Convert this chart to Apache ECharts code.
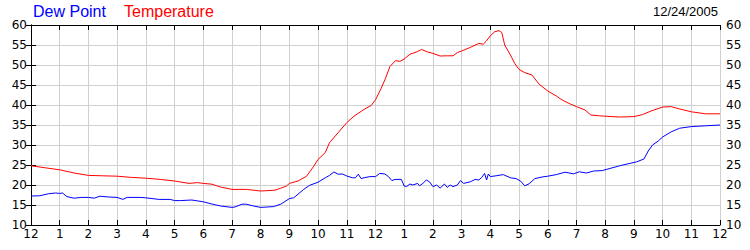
<!DOCTYPE html>
<html>
<head>
<meta charset="utf-8">
<script src="https://cdn.jsdelivr.net/npm/echarts@6/dist/echarts.min.js"></script>
<style>html,body{margin:0;padding:0;background:#fff}#c{width:750px;height:250px}</style>
</head>
<body>
<div id="c"></div>
<script>
// Hours since midnight (0..24) and readings
const tempHours = [0,0.5,1,1.5,2,2.5,3,3.5,4,4.5,5,5.5,5.8,6,6.3,6.6,7,7.5,8,8.5,8.7,8.9,9,9.3,9.6,9.85,10,10.25,10.4,10.7,11,11.25,11.6,11.85,12,12.2,12.35,12.5,12.7,12.85,13,13.2,13.45,13.6,13.8,14,14.25,14.5,14.7,14.85,15,15.3,15.6,15.75,15.85,16,16.15,16.3,16.4,16.5,16.7,16.85,17,17.2,17.45,17.7,18,18.3,18.5,18.8,19,19.3,19.5,19.8,20,20.5,21,21.3,21.6,22,22.3,22.6,23,23.5,24];
const tempValues = [24.8,24.3,23.8,23.0,22.4,22.3,22.2,21.9,21.7,21.4,21.0,20.4,20.6,20.4,20.2,19.5,18.9,18.9,18.5,18.7,19.2,19.75,20.4,21.0,22.2,24.7,26.4,28.1,30.6,33.1,35.6,37.2,38.9,39.9,41.3,44.2,46.7,49.6,51.1,50.9,51.5,52.7,53.3,53.9,53.3,52.9,52.25,52.3,52.3,53.1,53.5,54.4,55.4,55.2,55.9,57.3,58.3,58.6,58.1,55.0,52.5,50.4,48.9,48.1,47.5,45.2,43.5,42.25,41.25,40.2,39.6,38.75,37.5,37.3,37.2,37.0,37.1,37.6,38.5,39.5,39.6,39.0,38.3,37.8,37.8];
const dewHours = [0,0.3,0.6,0.85,1,1.1,1.25,1.5,1.75,2,2.2,2.4,2.7,3,3.2,3.35,3.8,4,4.45,4.85,5,5.2,5.6,6,6.3,6.6,7,7.1,7.35,7.5,7.75,8,8.45,8.7,9,9.15,9.5,9.7,10,10.25,10.4,10.55,10.7,10.85,11,11.2,11.3,11.4,11.5,11.6,11.8,12,12.15,12.33,12.45,12.57,12.68,12.9,13,13.08,13.2,13.3,13.47,13.53,13.65,13.77,13.88,14,14.13,14.25,14.4,14.5,14.6,14.7,14.85,14.96,15.07,15.3,15.47,15.6,15.7,15.8,15.87,15.93,16,16.2,16.45,16.7,16.9,17.05,17.2,17.35,17.55,17.8,18,18.3,18.6,18.9,19.1,19.35,19.6,19.9,20.2,20.5,20.8,21.1,21.35,21.5,21.65,21.85,22,22.3,22.6,23,23.5,24];
const dewValues = [17.25,17.3,17.8,18.0,17.9,18.0,17.1,16.7,16.9,16.9,16.7,17.2,17.0,16.9,16.4,16.9,16.9,16.8,16.4,16.4,16.1,16.1,16.25,15.8,15.25,14.75,14.4,14.5,15.2,15.2,14.75,14.4,14.6,15.2,16.6,16.8,18.9,19.9,20.7,21.8,22.4,23.25,22.7,22.75,22.25,21.8,21.8,22.7,21.6,21.8,22.1,22.1,22.9,22.75,22.1,21.1,21.4,21.4,19.75,19.6,20.25,20.0,20.4,19.8,20.4,21.25,20.8,19.6,20.0,19.2,20.25,19.4,20.0,19.6,20.0,21.1,20.4,20.8,21.4,21.25,21.9,22.9,21.25,22.75,22.1,22.3,22.6,21.8,21.6,21.0,19.8,20.3,21.6,22.0,22.2,22.6,23.2,22.8,23.3,23.0,23.5,23.6,24.2,24.8,25.3,25.8,26.5,28.5,30.0,31.0,32.0,33.3,34.2,34.6,34.8,35.0];
const hourLabels = ['12','1','2','3','4','5','6','7','8','9','10','11','12','1','2','3','4','5','6','7','8','9','10','11','12'];
const yMin = 10, yMax = 60, yStep = 5;
const seriesNames = ['Dew Point', 'Temperature'];
const dateText = '12/24/2005';

const FONT = 'Liberation Sans';
const TICKFONT = 'DejaVu Sans';
const chart = echarts.init(document.getElementById('c'), null, {renderer: 'svg'});
const pair = (hs, vs) => hs.map((h, i) => [h, vs[i]]);
const tickStyle = {show: true, inside: true, length: 5, lineStyle: {color: '#000', width: 1}};
const lineStyle = {color: '#000', width: 1};
chart.setOption({
  animation: false,
  backgroundColor: '#fff',
  grid: {left: 31, right: 30, top: 25, bottom: 25, containLabel: false},
  xAxis: [
    {type: 'value', position: 'bottom', min: 0, max: 24, interval: 1,
     axisLine: {show: true, lineStyle}, axisTick: tickStyle,
     axisLabel: {show: true, margin: 3, color: '#000', fontFamily: TICKFONT, fontSize: 12,
                 showMinLabel: true, showMaxLabel: true,
                 formatter: v => hourLabels[Math.round(v)]},
     splitLine: {show: true, lineStyle: {color: '#d0d0d0', width: 1}}},
    {type: 'value', position: 'top', min: 0, max: 24, interval: 1,
     axisLine: {show: true, lineStyle}, axisTick: tickStyle,
     axisLabel: {show: false}, splitLine: {show: false}}
  ],
  yAxis: [
    {type: 'value', position: 'left', min: yMin, max: yMax, interval: yStep,
     axisLine: {show: true, lineStyle}, axisTick: tickStyle,
     axisLabel: {margin: 4, color: '#000', fontFamily: TICKFONT, fontSize: 12},
     splitLine: {show: true, lineStyle: {color: '#d0d0d0', width: 1}}},
    {type: 'value', position: 'right', min: yMin, max: yMax, interval: yStep,
     axisLine: {show: true, lineStyle}, axisTick: tickStyle,
     axisLabel: {margin: 6, color: '#000', fontFamily: TICKFONT, fontSize: 12},
     splitLine: {show: false}}
  ],
  series: [
    {name: seriesNames[0], type: 'line', data: pair(dewHours, dewValues), showSymbol: false,
     lineStyle: {color: '#0000ff', width: 1}, itemStyle: {color: '#0000ff'}},
    {name: seriesNames[1], type: 'line', data: pair(tempHours, tempValues), showSymbol: false,
     lineStyle: {color: '#ff0000', width: 1}, itemStyle: {color: '#ff0000'}}
  ],
  graphic: [
    {type: 'text', left: 33, top: 3, style: {text: seriesNames[0], fill: '#0000ff', font: '16px "' + FONT + '"'}},
    {type: 'text', left: 124, top: 3, style: {text: seriesNames[1], fill: '#ff0000', font: '16px "' + FONT + '"'}},
    {type: 'text', right: 32, top: 5, style: {text: dateText, fill: '#000', font: '13px "' + FONT + '"'}}
  ]
});
</script>
</body>
</html>
